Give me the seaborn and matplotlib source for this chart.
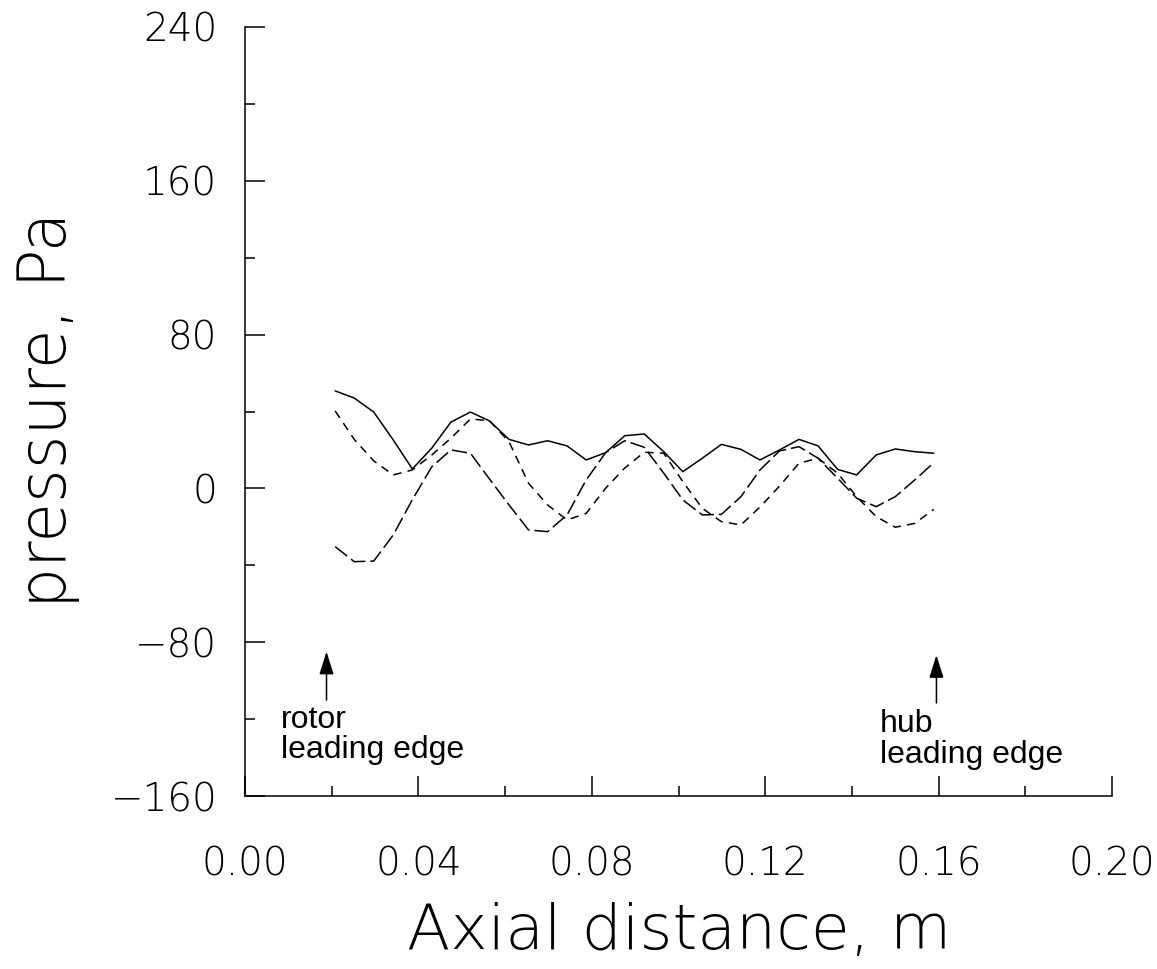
import numpy as np
import pandas as pd
import matplotlib
matplotlib.use("Agg")
import matplotlib.pyplot as plt
import seaborn as sns
from matplotlib.ticker import MultipleLocator, FuncFormatter

# Axial stations along the duct (m)
axial_distance = [0.0208, 0.0252, 0.0297, 0.0342, 0.0386, 0.0431, 0.0475, 0.0520,
                  0.0564, 0.0609, 0.0654, 0.0698, 0.0743, 0.0787, 0.0832, 0.0876,
                  0.0921, 0.0966, 0.1010, 0.1055, 0.1099, 0.1144, 0.1188, 0.1233,
                  0.1278, 0.1322, 0.1367, 0.1411, 0.1456, 0.1500, 0.1545, 0.1589]

# Pressure traces (Pa)
pressure_solid = [50.7, 47.0, 39.7, 25.2, 10.1, 21.0, 34.5, 39.7,
                  35.1, 25.5, 22.6, 24.8, 22.1, 14.8, 18.6, 27.4,
                  28.3, 19.1, 8.7, 15.7, 22.9, 20.3, 14.8, 20.0,
                  25.5, 22.1, 9.9, 7.0, 17.4, 20.5, 19.1, 18.3]
pressure_short_dash = [40.3, 25.5, 14.3, 7.0, 9.6, 17.4, 26.1, 36.1,
                       35.2, 24.3, 2.7, -8.6, -16.4, -13.0, 0.1, 10.6,
                       18.8, 18.3, 3.5, -10.4, -17.3, -19.0, -9.7, 1.2,
                       13.1, 15.7, 7.9, -4.3, -14.7, -20.2, -18.2, -10.9]
pressure_long_dash = [-30.3, -38.1, -37.8, -24.2, -5.9, 11.3, 20.0, 18.3,
                      4.9, -8.6, -21.6, -22.5, -13.8, 4.4, 18.6, 24.8,
                      21.4, 7.9, -6.0, -13.8, -13.5, -4.3, 9.6, 19.5,
                      21.7, 15.7, 5.3, -5.1, -9.5, -4.3, 4.4, 13.4]

series_names = ["solid", "short", "long"]

x_ticks = [0.00, 0.04, 0.08, 0.12, 0.16, 0.20]
y_ticks = [-160, -80, 0, 80, 160, 240]

markers_x = [0.0188, 0.1595]
marker_labels = [("rotor", "leading edge"), ("hub", "leading edge")]

df = pd.concat([
    pd.DataFrame({"x": axial_distance, "p": vals, "series": name})
    for name, vals in zip(series_names, [pressure_solid, pressure_short_dash, pressure_long_dash])
], ignore_index=True)

sns.set_theme(style="white")
plt.rcParams["font.family"] = ["DejaVu Sans"]
plt.rcParams["lines.scale_dashes"] = False
for key in ["text.color", "axes.labelcolor", "xtick.color", "ytick.color", "axes.edgecolor"]:
    plt.rcParams[key] = "black"

fig = plt.figure(figsize=(11.57, 9.69), dpi=100)
ax = fig.add_axes([245 / 1157, 1 - 796 / 969, 867 / 1157, 769 / 969])

sns.lineplot(data=df, x="x", y="p", style="series", color="black",
             dashes={"solid": "", "short": (6.0, 4.5), "long": (11.0, 3.5)},
             estimator=None, sort=False, legend=False, linewidth=1.1, ax=ax)

ax.set_xlim(0.0, 0.20)
ax.set_ylim(-160, 240)
ax.set_xticks(x_ticks)
ax.set_yticks(y_ticks)
ax.xaxis.set_minor_locator(MultipleLocator(0.02))
ax.yaxis.set_minor_locator(MultipleLocator(40))
ax.xaxis.set_major_formatter(FuncFormatter(lambda v, _: f"{v:.2f}"))
ax.yaxis.set_major_formatter(FuncFormatter(lambda v, _: f"{v:.0f}".replace("-", "\u2212")))

for side in ["top", "right"]:
    ax.spines[side].set_visible(False)
for side in ["left", "bottom"]:
    ax.spines[side].set_color("black")
    ax.spines[side].set_linewidth(1.1)

ax.tick_params(which="both", direction="in", color="black", width=1.1,
               left=True, bottom=True)
ax.tick_params(which="major", length=14.4)
ax.tick_params(which="minor", length=7.2)
ax.tick_params(axis="x", which="major", pad=36, labelsize=28)
ax.tick_params(axis="y", which="major", pad=20, labelsize=28)
for lab in ax.get_xticklabels() + ax.get_yticklabels():
    lab.set_fontweight("ultralight")

ax.set_xlabel("Axial distance, m", fontsize=45.5, fontweight="ultralight")
ax.set_ylabel("pressure, Pa", fontsize=46.5, fontweight="ultralight")
ax.xaxis.set_label_coords(0.5006, -0.177)
ax.xaxis.label.set_va("center")
ax.yaxis.set_label_coords(-0.227, 0.502)
ax.yaxis.label.set_va("center")

# Leading-edge markers
arrow_style = "-|>,head_length=0.7,head_width=0.22"
ax.annotate("", xy=(markers_x[0], -84.9), xytext=(markers_x[0], -110.1),
            arrowprops=dict(arrowstyle=arrow_style, color="black", lw=1.1,
                            mutation_scale=20, shrinkA=0, shrinkB=0))
ax.annotate("", xy=(markers_x[1], -86.7), xytext=(markers_x[1], -111.6),
            arrowprops=dict(arrowstyle=arrow_style, color="black", lw=1.1,
                            mutation_scale=20, shrinkA=0, shrinkB=0))

label_font = dict(family="Liberation Sans", fontsize=23, color="black")
ax.text(0.0083, -124.6, marker_labels[0][0], va="baseline", ha="left", **label_font)
ax.text(0.0083, -140.2, marker_labels[0][1], va="baseline", ha="left", **label_font)
ax.text(0.1465, -126.7, marker_labels[1][0], va="baseline", ha="left", **label_font)
ax.text(0.1465, -142.8, marker_labels[1][1], va="baseline", ha="left", **label_font)

fig.savefig("out.png", dpi=100, facecolor="white")
